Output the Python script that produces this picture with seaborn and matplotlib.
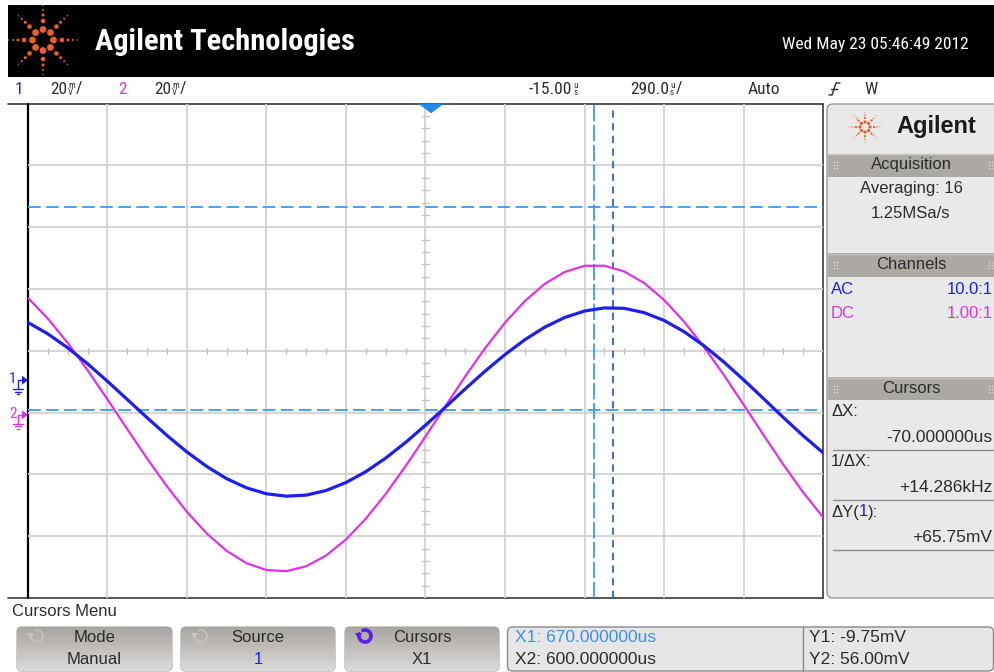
import numpy as np
import pandas as pd
import matplotlib
matplotlib.use("Agg")
import matplotlib.pyplot as plt
from matplotlib.patches import Rectangle, FancyBboxPatch, Circle, Polygon
from matplotlib.colors import LinearSegmentedColormap
import seaborn as sns

# ---------------- acquisition (averaged record) ----------------
time_us = [-1465, -1392.5, -1320, -1247.5, -1175, -1102.5, -1030, -957.5, -885, -812.5,
           -740, -667.5, -595, -522.5, -450, -377.5, -305, -232.5, -160, -87.5,
           -15, 57.5, 130, 202.5, 275, 347.5, 420, 492.5, 565, 637.5,
           710, 782.5, 855, 927.5, 1000, 1072.5, 1145, 1217.5, 1290, 1362.5, 1435]
ch1_mv = [18.68, 14.99, 10.47, 5.30, -0.36, -6.27, -12.18, -17.93, -23.26, -27.95,
          -31.89, -34.86, -36.77, -37.54, -37.19, -35.70, -33.12, -29.60, -25.20, -20.13,
          -14.57, -8.72, -2.81, 2.94, 8.30, 13.12, 17.16, 20.29, 22.39, 23.39,
          23.26, 21.87, 19.35, 15.74, 11.21, 5.95, 0.16, -5.91, -12.05, -17.96, -23.46]
ch2_mv = [37.80, 31.11, 23.23, 14.38, 4.94, -4.72, -14.25, -23.26, -31.47, -38.48,
          -44.10, -48.08, -50.27, -50.63, -49.05, -45.56, -40.39, -33.63, -25.62, -16.64,
          -7.04, 2.78, 12.44, 21.55, 29.79, 36.80, 42.36, 46.20, 48.21, 48.24,
          46.37, 42.65, 37.16, 30.21, 22.04, 12.96, 3.33, -6.49, -16.09, -25.11, -33.18]

# ---------------- scope settings ----------------
time_per_div = 290.0      # us/div
delay_us = -15.0
mv_per_div = 20.0         # both channels
ch1_ground_div = -0.475
ch2_ground_div = -1.034
cursor_x1, cursor_x2 = 670.0, 600.0
cursor_y1, cursor_y2 = -9.75, 56.00

BLUE = "#1e1ef0"
MAGENTA = "#e030e8"
CUR_LIGHT = "#3c9af2"
CUR_DARK = "#2a66c6"
ORANGE = "#e8602c"
TXT = "#2c2c2c"

sns.set_theme(style="white")
plt.rcParams["font.family"] = ["Liberation Sans", "DejaVu Sans"]
NARROW = ["Roboto Condensed", "DejaVu Sans"]
REG = ["Liberation Sans", "DejaVu Sans"]

W, H = 994, 672
fig = plt.figure(figsize=(W / 100, H / 100), dpi=100)
fig.patch.set_facecolor("white")

# pixel canvas for the instrument chrome
ui = fig.add_axes([0, 0, 1, 1])
ui.axis("off")
ui.set_xlim(0, W)
ui.set_ylim(H, 0)
renderer = fig.canvas.get_renderer()


def rect(x0, y0, x1, y1):
    return [x0 / W, 1 - y1 / H, (x1 - x0) / W, (y1 - y0) / H]


def text_width(t):
    return t.get_window_extent(renderer).width


def fitted_text(x, y, s, width, size, **kw):
    """Place text and tune its size so it spans the given pixel width."""
    t = ui.text(x, y, s, fontsize=size, **kw)
    t.set_fontsize(size * width / text_width(t))
    return t


def starburst(cx, cy, s):
    rings = [(10.5, 3.4), (19.0, 2.3), (25.0, 1.5), (30.0, 1.0), (34.5, 0.7)]
    for k in range(8):
        a = k * np.pi / 4
        for r, rad in rings:
            ui.add_patch(Circle((cx + s * r * np.cos(a), cy + s * r * np.sin(a)),
                                s * rad, color=ORANGE, lw=0))


# ---------------- header bar ----------------
ui.add_patch(Rectangle((8, 5), W - 8, 72, color="black", lw=0))
starburst(43, 40, 1.0)
fitted_text(95, 42, "Agilent Technologies", 260, 24, color="white",
            fontweight="bold", family=NARROW, va="center", ha="left")
fitted_text(969, 44, "Wed May 23 05:46:49 2012", 188, 14, color="white",
            family=NARROW, va="center", ha="right")

# ---------------- status line ----------------
SY = 89


def stacked(x, y, number, top, bottom, tail, color=TXT):
    t = ui.text(x, y, number, color=color, fontsize=12.5, family=NARROW,
                va="center", ha="left")
    x2 = x + text_width(t) + 1
    a = ui.text(x2, y - 3.6, top, color=color, fontsize=6.5, family=NARROW,
                va="center", ha="left")
    b = ui.text(x2, y + 3.8, bottom, color=color, fontsize=6.5, family=NARROW,
                va="center", ha="left")
    x3 = x2 + max(text_width(a), text_width(b)) + 1
    if tail:
        ui.text(x3, y, tail, color=color, fontsize=12.5, family=NARROW,
                va="center", ha="left")


ui.text(15, SY, "1", color=BLUE, fontsize=12.5, family=NARROW, va="center")
stacked(50, SY, "20", "m", "V", "/")
ui.text(118, SY, "2", color=MAGENTA, fontsize=12.5, family=NARROW, va="center")
stacked(154, SY, "20", "m", "V", "/")
stacked(529, SY, "-15.00", "u", "s", "")
stacked(630, SY, "290.0", "u", "s", "/")
ui.text(748, SY, "Auto", color=TXT, fontsize=12.5, family=NARROW, va="center")
# rising-edge trigger glyph
ui.plot([829, 832, 836, 840], [95, 95, 83, 83], color=TXT, lw=1.0)
ui.plot([831, 837], [89, 89], color=TXT, lw=1.0)
ui.text(864, SY, "W", color=TXT, fontsize=12.5, family=NARROW, va="center")

# ---------------- graticule frame ----------------
PL, PR, PT, PB = 28, 823, 103.7, 598
ui.plot([8, PR], [PT, PT], color="#3a3a3a", lw=1.2)
ui.plot([8, PR], [PB, PB], color="#3a3a3a", lw=1.2)
ui.plot([PR, PR], [PT, PB], color="#3a3a3a", lw=1.2)
ui.plot([PL, PL], [PT, PB], color="black", lw=1.6)

grid_ax = fig.add_axes(rect(PL, PT, PR, PB))
grid_ax.set_facecolor("none")
grid_ax.set_xlim(-5, 5)
grid_ax.set_ylim(-4, 4)
grid_ax.axis("off")
GRID = "#d2d2d2"
for i in range(-4, 5):
    grid_ax.axvline(i, color=GRID, lw=1.3, zorder=1)
for j in range(-3, 4):
    grid_ax.axhline(j, color=GRID, lw=1.3, zorder=1)
for v in np.arange(-4, 4.001, 0.2):
    if abs(v - round(v)) > 1e-6:
        grid_ax.plot([-0.038, 0.038], [v, v], color="#c4c4c4", lw=1.0)
for u in np.arange(-5, 5.001, 0.25):
    if abs(u - round(u)) > 1e-6:
        grid_ax.plot([u, u], [-0.05, 0.05], color="#c4c4c4", lw=1.0)

t_lo, t_hi = delay_us - 5 * time_per_div, delay_us + 5 * time_per_div
ch1_lim = ((-4 - ch1_ground_div) * mv_per_div, (4 - ch1_ground_div) * mv_per_div)
ch2_lim = ((-4 - ch2_ground_div) * mv_per_div, (4 - ch2_ground_div) * mv_per_div)

# cursors (channel 1 scale)
cur_ax = fig.add_axes(rect(PL, PT, PR, PB))
cur_ax.set_facecolor("none")
cur_ax.set_xlim(t_lo, t_hi)
cur_ax.set_ylim(*ch1_lim)
cur_ax.axis("off")
cur_ax.axhline(cursor_y2, color=CUR_LIGHT, lw=1.3, dashes=(7, 3))
cur_ax.axhline(cursor_y1, color=CUR_LIGHT, lw=1.3, dashes=(7, 3))
cur_ax.axvline(cursor_x2, color=CUR_LIGHT, lw=1.3, dashes=(9, 2))
cur_ax.axvline(cursor_x1, color=CUR_DARK, lw=1.3, dashes=(4, 3))
cur_ax.plot([0], [ch1_lim[1]], marker=[(-1, 0), (1, 0), (0, -0.75)],
            markersize=16, color="#1e88f0", clip_on=False, lw=0)

df = pd.DataFrame({"t": time_us, "ch1": ch1_mv, "ch2": ch2_mv})

ax2 = fig.add_axes(rect(PL, PT, PR, PB))
ax2.set_facecolor("none")
sns.lineplot(data=df, x="t", y="ch2", ax=ax2, color=MAGENTA, lw=1.6,
             estimator=None, sort=False)
ax2.set_xlim(t_lo, t_hi)
ax2.set_ylim(*ch2_lim)
ax2.axis("off")

ax1 = fig.add_axes(rect(PL, PT, PR, PB))
ax1.set_facecolor("none")
sns.lineplot(data=df, x="t", y="ch1", ax=ax1, color=BLUE, lw=2.3,
             estimator=None, sort=False)
ax1.set_xlim(t_lo, t_hi)
ax1.set_ylim(*ch1_lim)
ax1.axis("off")


# ground reference markers
def ground_marker(y, label, color):
    ui.text(13, y - 1, label, color=color, fontsize=11, family=NARROW,
            va="center", ha="center")
    ui.plot([18, 18, 23], [y + 9, y, y], color=color, lw=1.0)
    ui.add_patch(Polygon([[22, y - 4.5], [28, y], [22, y + 4.5]], color=color, lw=0))
    ui.plot([13, 23], [y + 9, y + 9], color=color, lw=1.0)
    ui.plot([15, 21], [y + 11.5, y + 11.5], color=color, lw=1.0)
    ui.plot([17, 19], [y + 14, y + 14], color=color, lw=1.0)


px_per_div = (PB - PT) / 8
center_y = (PT + PB) / 2
ground_marker(center_y - ch1_ground_div * px_per_div, "1", BLUE)
ground_marker(center_y - ch2_ground_div * px_per_div, "2", MAGENTA)

# ---------------- side panel ----------------
ui.add_patch(FancyBboxPatch((827, 104), 175, 494, boxstyle="round,pad=0,rounding_size=6",
                            fc="#e9e9e9", ec="#9a9a9a", lw=1.0))
starburst(865, 127, 0.48)
ui.text(896, 127, "Agilent", color="#1a1a1a", fontsize=17, fontweight="bold",
        family=REG, va="center", ha="left")


def section(y0, y1, title):
    ui.add_patch(Rectangle((827.5, y0), 167, y1 - y0, fc="#aca8a4", ec="none"))
    ui.plot([828, 994], [y0 + 0.5, y0 + 0.5], color="#c8c5c2", lw=1.0)
    for gx in (833.5, 988.5):
        for dy in (-3, 0, 3):
            ui.scatter([gx, gx + 3], [(y0 + y1) / 2 + dy] * 2, s=1.2,
                       color="#dcdcdc", lw=0)
    ui.text(911, (y0 + y1) / 2, title, color=TXT, fontsize=12, family=REG,
            va="center", ha="center")


section(153.5, 176.5, "Acquisition")
ui.text(911, 189, "Averaging: 16", color=TXT, fontsize=12, family=REG,
        va="center", ha="center")
ui.text(911, 213, "1.25MSa/s", color=TXT, fontsize=12, family=REG,
        va="center", ha="center")

section(253, 276.5, "Channels")
ui.text(831, 289, "AC", color=BLUE, fontsize=12, family=REG, va="center")
ui.text(993, 289, "10.0:1", color=BLUE, fontsize=12, family=REG, va="center", ha="right")
ui.text(831, 313, "DC", color=MAGENTA, fontsize=12, family=REG, va="center")
ui.text(993, 313, "1.00:1", color=MAGENTA, fontsize=12, family=REG, va="center", ha="right")

section(377, 400, "Cursors")
ui.text(831, 412, "ΔX:", color=TXT, fontsize=12, family=REG, va="center")
ui.text(992, 438, "-70.000000us", color=TXT, fontsize=12.5, family=REG,
        va="center", ha="right")
ui.plot([833, 994], [449.5, 449.5], color="#8c8c8c", lw=1.0)
ui.text(831, 462, "1/ΔX:", color=TXT, fontsize=12, family=REG, va="center")
ui.text(992, 487, "+14.286kHz", color=TXT, fontsize=12.5, family=REG,
        va="center", ha="right")
ui.plot([833, 994], [499.5, 499.5], color="#8c8c8c", lw=1.0)
t = ui.text(831, 512, "ΔY(", color=TXT, fontsize=12, family=REG, va="center")
x = 831 + text_width(t)
t = ui.text(x, 512, "1", color=BLUE, fontsize=12, family=REG, va="center")
x += text_width(t)
ui.text(x, 512, "):", color=TXT, fontsize=12, family=REG, va="center")
ui.text(992, 537, "+65.75mV", color=TXT, fontsize=12.5, family=REG,
        va="center", ha="right")
ui.plot([833, 994], [549.5, 549.5], color="#8c8c8c", lw=1.0)

# ---------------- softkey menu ----------------
ui.text(12, 611, "Cursors Menu", color=TXT, fontsize=12, family=REG, va="center")

grad = np.linspace(0, 1, 64)[:, None]
btn_cmap = LinearSegmentedColormap.from_list("btn", ["#a9a5a1", "#c2bfbc", "#dedcda"])


def arc_icon(cx, cy, color, lw):
    a = np.linspace(np.deg2rad(-200), np.deg2rad(110), 40)
    ui.plot(cx + 6 * np.cos(a), cy - 6 * np.sin(a), color=color, lw=lw,
            solid_capstyle="round")
    ui.add_patch(Polygon([[cx - 10, cy - 3], [cx - 3, cy - 3], [cx - 6.5, cy + 3]],
                         color=color, lw=0))


def softkey(x0, x1, top, bottom, bottom_color, icon_color, icon_lw):
    y0, y1 = 627, 671
    patch = FancyBboxPatch((x0, y0), x1 - x0, y1 - y0,
                           boxstyle="round,pad=0,rounding_size=5",
                           fc="none", ec="#b8b6b4", lw=1.0)
    ui.add_patch(patch)
    im = ui.imshow(grad, cmap=btn_cmap, aspect="auto", extent=(x0, x1, y1, y0),
                   interpolation="bilinear", zorder=1)
    im.set_clip_path(patch)
    cx = (x0 + x1) / 2
    ui.text(cx, 637, top, color=TXT, fontsize=12, family=REG, va="center",
            ha="center", zorder=3)
    ui.text(cx, 659, bottom, color=bottom_color, fontsize=12, family=REG,
            va="center", ha="center", zorder=3)
    arc_icon(x0 + 20, 636, icon_color, icon_lw)


softkey(17, 172, "Mode", "Manual", TXT, "#c9c7c5", 1.0)
softkey(181, 335, "Source", "1", BLUE, "#c9c7c5", 1.0)
softkey(345, 499, "Cursors", "X1", TXT, "#5520e8", 2.6)

# cursor readout box
ui.add_patch(FancyBboxPatch((507.5, 627), 486, 44, boxstyle="round,pad=0,rounding_size=5",
                            fc="#e6e6e6", ec="#8a8a8a", lw=1.0))
ui.plot([802.5, 802.5], [627, 671], color="#8a8a8a", lw=1.0)
ui.text(515, 637, "X1: 670.000000us", color="#3d8fef", fontsize=12.5, family=REG,
        va="center")
ui.text(515, 659, "X2: 600.000000us", color=TXT, fontsize=12.5, family=REG,
        va="center")
ui.text(809, 637, "Y1: -9.75mV", color=TXT, fontsize=12.5, family=REG, va="center")
ui.text(809, 659, "Y2: 56.00mV", color=TXT, fontsize=12.5, family=REG, va="center")

ui.set_xlim(0, W)
ui.set_ylim(H, 0)

fig.savefig("out.png", dpi=100)
